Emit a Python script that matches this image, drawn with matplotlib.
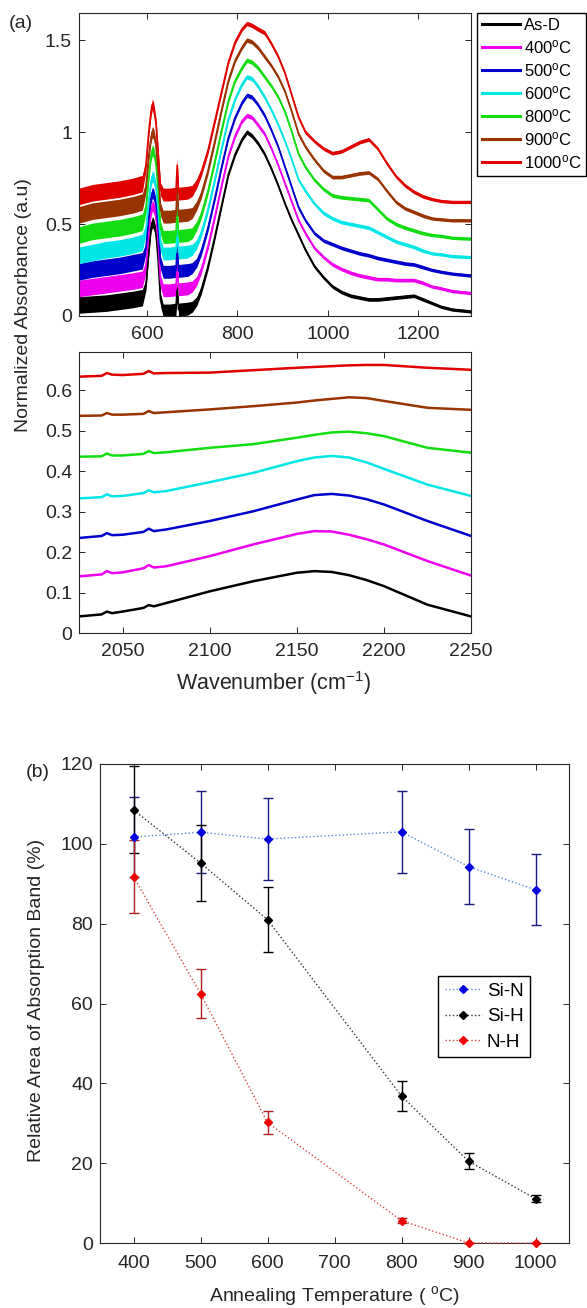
import matplotlib
matplotlib.use('Agg')
import matplotlib.pyplot as plt
from matplotlib.lines import Line2D

plt.rcParams['font.family'] = ['Liberation Sans', 'DejaVu Sans']
plt.rcParams['mathtext.fontset'] = 'custom'
plt.rcParams['mathtext.rm'] = 'Liberation Sans'
plt.rcParams['mathtext.it'] = 'Liberation Sans:italic'

# ---------------- data: panel (a) top, 450-1315 cm-1 ----------------
labels = ['As-D', r'400$^{\rm o}$C', r'500$^{\rm o}$C', r'600$^{\rm o}$C',
          r'800$^{\rm o}$C', r'900$^{\rm o}$C', r'1000$^{\rm o}$C']
colors = ['#000000', '#ee00ee', '#0000cc', '#00e6e6', '#11dd11', '#993300', '#e00000']

wn_low = [450, 480, 510, 540, 570, 590,
          598, 604, 609, 612, 615, 620, 625,
          630, 636, 650, 664, 667, 670,
          690, 700, 710, 720, 735, 750, 765, 780,
          795, 810, 821, 832, 845, 860, 875, 890, 905, 920, 935, 950,
          970, 990, 1010, 1030, 1050, 1070, 1090, 1110, 1130, 1150, 1170, 1190, 1210,
          1230, 1250, 1275, 1315]
noise_halfwidth = [0.045, 0.045, 0.045, 0.045, 0.045, 0.045,
                   0.03, 0.03, 0.03, 0.03, 0.03, 0.03, 0.03,
                   0.035, 0.035, 0.035, 0.035, 0.035, 0.035,
                   0.035, 0.03, 0.025, 0.022, 0.02, 0.018, 0.016, 0.014,
                   0.012, 0.012, 0.012, 0.012, 0.012, 0.012, 0.011, 0.011, 0.011, 0.011, 0.011, 0.011,
                   0.01, 0.01, 0.01, 0.01, 0.01, 0.01, 0.01, 0.01, 0.01, 0.01, 0.01, 0.01, 0.01,
                   0.009, 0.009, 0.009, 0.009]
abs_asd = [0.06, 0.065, 0.07, 0.08, 0.09, 0.10,
           0.17, 0.35, 0.48, 0.51, 0.50, 0.45, 0.30,
           0.09, 0.03, 0.03, 0.035, 0.15, 0.035,
           0.04, 0.05, 0.08, 0.14, 0.27, 0.43, 0.60, 0.77,
           0.88, 0.96, 1.00, 0.98, 0.94, 0.88, 0.80, 0.71, 0.61, 0.52, 0.44, 0.36,
           0.27, 0.21, 0.16, 0.13, 0.11, 0.10, 0.09, 0.09, 0.095, 0.10, 0.105, 0.11, 0.09,
           0.07, 0.05, 0.035, 0.025]
abs_400 = [0.15, 0.16, 0.17, 0.18, 0.19, 0.20,
           0.27, 0.45, 0.57, 0.60, 0.59, 0.54, 0.40,
           0.19, 0.14, 0.14, 0.145, 0.27, 0.145,
           0.15, 0.16, 0.19, 0.25, 0.38, 0.54, 0.71, 0.87,
           0.98, 1.06, 1.09, 1.08, 1.04, 0.99, 0.91, 0.82, 0.72, 0.62, 0.52, 0.45,
           0.37, 0.32, 0.28, 0.255, 0.235, 0.22, 0.21, 0.20, 0.20, 0.195, 0.195, 0.195, 0.18,
           0.16, 0.15, 0.135, 0.125]
abs_500 = [0.24, 0.255, 0.265, 0.275, 0.29, 0.30,
           0.37, 0.53, 0.64, 0.67, 0.66, 0.61, 0.48,
           0.29, 0.24, 0.24, 0.245, 0.37, 0.245,
           0.25, 0.26, 0.29, 0.35, 0.48, 0.64, 0.81, 0.97,
           1.08, 1.16, 1.20, 1.19, 1.15, 1.09, 1.01, 0.92, 0.81, 0.70, 0.59, 0.52,
           0.45, 0.41, 0.39, 0.37, 0.355, 0.34, 0.33, 0.315, 0.305, 0.295, 0.285, 0.28, 0.265,
           0.25, 0.24, 0.23, 0.22]
abs_600 = [0.33, 0.345, 0.36, 0.37, 0.385, 0.40,
           0.47, 0.63, 0.73, 0.76, 0.75, 0.70, 0.57,
           0.39, 0.34, 0.34, 0.345, 0.47, 0.345,
           0.35, 0.36, 0.39, 0.45, 0.58, 0.74, 0.91, 1.07,
           1.18, 1.26, 1.30, 1.29, 1.25, 1.19, 1.12, 1.04, 0.95, 0.85, 0.74, 0.68,
           0.61, 0.56, 0.53, 0.51, 0.50, 0.49, 0.48, 0.455, 0.43, 0.405, 0.39, 0.375, 0.355,
           0.34, 0.335, 0.325, 0.32]
abs_800 = [0.44, 0.46, 0.47, 0.48, 0.495, 0.51,
           0.59, 0.76, 0.87, 0.90, 0.89, 0.83, 0.68,
           0.48, 0.43, 0.43, 0.435, 0.58, 0.435,
           0.44, 0.45, 0.49, 0.55, 0.68, 0.84, 1.01, 1.17,
           1.28, 1.35, 1.39, 1.38, 1.35, 1.30, 1.25, 1.19, 1.11, 1.00, 0.88, 0.81,
           0.74, 0.69, 0.655, 0.645, 0.64, 0.635, 0.63, 0.58, 0.53, 0.50, 0.48, 0.465, 0.45,
           0.44, 0.435, 0.425, 0.42]
abs_900 = [0.55, 0.57, 0.58, 0.59, 0.605, 0.62,
           0.70, 0.87, 0.97, 1.00, 0.99, 0.93, 0.78,
           0.58, 0.54, 0.54, 0.545, 0.70, 0.545,
           0.55, 0.56, 0.60, 0.66, 0.79, 0.95, 1.12, 1.28,
           1.39, 1.46, 1.50, 1.49, 1.46, 1.41, 1.36, 1.30, 1.22, 1.11, 0.99, 0.92,
           0.85, 0.79, 0.755, 0.755, 0.765, 0.775, 0.78, 0.745, 0.68, 0.62, 0.585, 0.565, 0.545,
           0.53, 0.525, 0.52, 0.52]
abs_1000 = [0.65, 0.67, 0.68, 0.69, 0.705, 0.72,
            0.82, 1.00, 1.11, 1.15, 1.13, 1.05, 0.88,
            0.69, 0.66, 0.66, 0.665, 0.82, 0.665,
            0.67, 0.68, 0.72, 0.78, 0.90, 1.06, 1.22, 1.38,
            1.49, 1.56, 1.59, 1.58, 1.56, 1.54, 1.48, 1.41, 1.32, 1.20, 1.08, 1.00,
            0.95, 0.91, 0.885, 0.895, 0.92, 0.945, 0.96, 0.91, 0.83, 0.76, 0.71, 0.675, 0.65,
            0.635, 0.625, 0.62, 0.62]

# ---------------- data: panel (a) bottom, 2025-2250 cm-1 ----------------
wn_high = [2025, 2038, 2041, 2044, 2050, 2062, 2065, 2068, 2075, 2100, 2125, 2150, 2160,
           2170, 2180, 2190, 2200, 2225, 2250]
hi_asd = [0.041, 0.046, 0.053, 0.049, 0.053, 0.062, 0.069, 0.066, 0.074, 0.103, 0.128, 0.149, 0.153,
          0.151, 0.143, 0.131, 0.116, 0.070, 0.041]
hi_400 = [0.140, 0.145, 0.153, 0.148, 0.150, 0.160, 0.168, 0.162, 0.165, 0.190, 0.219, 0.245, 0.252,
          0.251, 0.243, 0.232, 0.219, 0.178, 0.142]
hi_500 = [0.235, 0.240, 0.247, 0.242, 0.243, 0.250, 0.258, 0.252, 0.256, 0.277, 0.301, 0.330, 0.341,
          0.344, 0.340, 0.331, 0.318, 0.277, 0.240]
hi_600 = [0.333, 0.336, 0.343, 0.338, 0.339, 0.346, 0.353, 0.348, 0.351, 0.373, 0.396, 0.425, 0.434,
          0.438, 0.434, 0.422, 0.406, 0.367, 0.339]
hi_800 = [0.436, 0.437, 0.444, 0.439, 0.439, 0.443, 0.450, 0.445, 0.447, 0.458, 0.467, 0.483, 0.490,
          0.496, 0.498, 0.494, 0.487, 0.458, 0.446]
hi_900 = [0.537, 0.538, 0.544, 0.540, 0.540, 0.542, 0.549, 0.544, 0.546, 0.553, 0.561, 0.570, 0.575,
          0.579, 0.583, 0.581, 0.574, 0.557, 0.552]
hi_1000 = [0.634, 0.636, 0.643, 0.639, 0.638, 0.641, 0.648, 0.642, 0.643, 0.644, 0.650, 0.656, 0.658,
           0.660, 0.662, 0.663, 0.663, 0.656, 0.651]

# ---------------- data: panel (b) ----------------
anneal_T = [400, 500, 600, 800, 900, 1000]
si_n = [101.7, 102.9, 101.2, 103.0, 94.3, 88.5]
si_n_err = [10.0, 10.3, 10.2, 10.3, 9.4, 8.9]
si_h = [108.5, 95.2, 81.0, 36.8, 20.5, 11.1]
si_h_err = [10.9, 9.5, 8.2, 3.7, 2.0, 0.8]
n_h = [91.8, 62.5, 30.2, 5.6, 0.0, 0.0]
n_h_err = [9.2, 6.2, 2.9, 0.6, 0.0, 0.0]

# ---------------- figure ----------------
W, H = 587, 1308
fig = plt.figure(figsize=(W / 100, H / 100), dpi=100)


def box(l, t, r, b):
    return [l / W, 1 - b / H, (r - l) / W, (b - t) / H]


def ftext(x, y, s, **kw):
    fig.text(x / W, 1 - y / H, s, **kw)


axis_col = '#262626'


def style(ax, xpad, ypad):
    ax.tick_params(direction='in', top=True, right=True, length=4, width=0.7,
                   labelsize=14, colors=axis_col)
    ax.tick_params(axis='x', pad=xpad)
    ax.tick_params(axis='y', pad=ypad)
    for s in ax.spines.values():
        s.set_color(axis_col)
        s.set_linewidth(0.8)


ax1 = fig.add_axes(box(79, 13, 471, 316))
ax2 = fig.add_axes(box(79, 352, 471, 633))
ax3 = fig.add_axes(box(100, 764, 569, 1243))

low_sets = [abs_asd, abs_400, abs_500, abs_600, abs_800, abs_900, abs_1000]
high_sets = [hi_asd, hi_400, hi_500, hi_600, hi_800, hi_900, hi_1000]

for ys, c, lab in zip(low_sets, colors, labels):
    lo = [y - w for y, w in zip(ys, noise_halfwidth)]
    hi = [y + w for y, w in zip(ys, noise_halfwidth)]
    ax1.fill_between(wn_low, lo, hi, color=c, lw=0)
    ax1.plot(wn_low, ys, color=c, lw=1.2, label=lab)

ax1.set_xlim(450, 1316)
ax1.set_ylim(0, 1.647)
ax1.set_xticks([600, 800, 1000, 1200])
ax1.set_yticks([0, 0.5, 1, 1.5])
ax1.set_yticklabels(['0', '0.5', '1', '1.5'])
style(ax1, 7, 5)

for ys, c in zip(high_sets, colors):
    ax2.plot(wn_high, ys, color=c, lw=1.8)
ax2.set_xlim(2025, 2250)
ax2.set_ylim(0, 0.695)
ax2.set_xticks([2050, 2100, 2150, 2200, 2250])
ax2.set_yticks([0, 0.1, 0.2, 0.3, 0.4, 0.5, 0.6])
ax2.set_yticklabels(['0', '0.1', '0.2', '0.3', '0.4', '0.5', '0.6'])
style(ax2, 7, 5)

leg_line = [Line2D([], [], color=c, lw=2.2) for c in colors]
fig.legend(leg_line, labels, loc='upper left', bbox_to_anchor=(477 / W, 1 - 13 / H),
           fontsize=12, frameon=True, fancybox=False, edgecolor='#000000',
           framealpha=1, borderpad=0.3, labelspacing=0.3, handlelength=2.3,
           handletextpad=0.2, borderaxespad=0)

ftext(21, 24, '(a)', fontsize=14, ha='center', va='center', color=axis_col)
ftext(24, 305, 'Normalized Absorbance (a.u)', fontsize=14, rotation=90,
      ha='center', va='center', color=axis_col)
ftext(274, 683, r'Wavenumber (cm$^{-1}$)', fontsize=15.5, ha='center', va='center',
      color=axis_col)

# ---------------- panel (b) ----------------
series = [
    (si_n, si_n_err, '#5588dd', '#0000dd', '#1a1a80', 'Si-N'),
    (si_h, si_h_err, '#333333', '#000000', '#000000', 'Si-H'),
    (n_h, n_h_err, '#dd4444', '#ee0000', '#b02020', 'N-H'),
]
bh = []
for ys, es, lc, mc, ec, lab in series:
    cont = ax3.errorbar(anneal_T, ys, yerr=es, fmt=':', marker='D', ms=4.5, color=lc,
                        mfc=mc, mec=mc, ecolor=ec, elinewidth=1.0, capsize=3.5,
                        capthick=1.0, lw=1.0, label=lab, clip_on=False, zorder=3)
    bh.append(cont[0])
ax3.set_xlim(350, 1050)
ax3.set_ylim(0, 120)
ax3.set_xticks([400, 500, 600, 700, 800, 900, 1000])
ax3.set_yticks([0, 20, 40, 60, 80, 100, 120])
style(ax3, 9, 5)
ax3.legend(bh, [s[5] for s in series], loc='upper left',
           bbox_to_anchor=(438 / W, 1 - 976 / H), bbox_transform=fig.transFigure,
           fontsize=13.5, frameon=True, fancybox=False, edgecolor='#000000',
           framealpha=1, borderpad=0.35, labelspacing=0.45, handlelength=2.0,
           handletextpad=0.25, borderaxespad=0)

ftext(38, 772, '(b)', fontsize=14, ha='center', va='center', color=axis_col)
ftext(37, 1000, 'Relative Area of Absorption Band (%)', fontsize=14, rotation=90,
      ha='center', va='center', color=axis_col)
ftext(334, 1296, r'Annealing Temperature ( $^{\rm o}$C)', fontsize=14, ha='center',
      va='center', color=axis_col)

fig.savefig('out.png', dpi=100)
